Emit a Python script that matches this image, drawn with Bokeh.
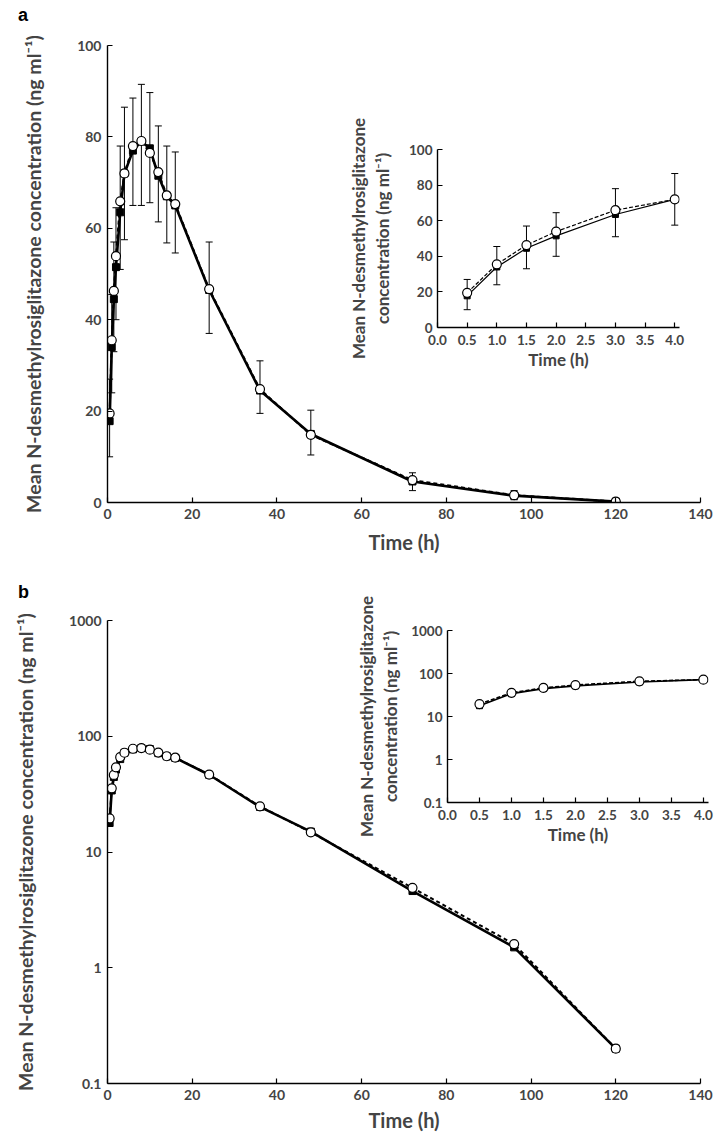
import math
from bokeh.plotting import figure
from bokeh.models import (Range1d, ColumnDataSource, FixedTicker, Whisker, TeeHead,
                          CustomJSTickFormatter, InlineStyleSheet, GlobalInlineStyleSheet, Div)
from bokeh.layouts import column
from bokeh.embed import file_html
from bokeh.resources import INLINE

# ---------------- data ----------------
times = [0.5, 1, 1.5, 2, 3, 4, 6, 8, 10, 12, 14, 16, 24, 36, 48, 72, 96, 120]
circle_mean = [19.5, 35.5, 46.3, 53.9, 65.9, 72.0, 78.0, 79.1, 76.5, 72.3, 67.2, 65.3, 46.7, 24.8, 14.8, 4.9, 1.6, 0.2]
square_mean = [17.8, 34.0, 44.5, 51.5, 63.5, 72.0, 77.0, 79.0, 77.5, 71.5, 67.0, 65.0, 46.5, 24.5, 15.0, 4.6, 1.5, 0.2]
circle_upper = [27, 45.5, 57, 64.5, 78, 86.5, 88.5, 91.5, 89.7, 82.4, 78, 76.7, 57, 31, 20.2, 6.5, 2.6, 0.2]
circle_lower = [10, 24, 33, 40, 51, 57.5, 65, 65, 65.6, 61.4, 56.8, 54.6, 37, 19.5, 10.4, 2.6, 0.6, 0.2]

main_x_ticks = [0, 20, 40, 60, 80, 100, 120, 140]
lin_y_ticks = [0, 20, 40, 60, 80, 100]
log_y_ticks = [0.1, 1, 10, 100, 1000]
inset_x_ticks = [0.0, 0.5, 1.0, 1.5, 2.0, 2.5, 3.0, 3.5, 4.0]
inset_max_time = 4.0

y_title = "Mean N-desmethylrosiglitazone concentration (ng ml\u207b\u00b9)"
inset_y_title = "Mean N-desmethylrosiglitazone\nconcentration (ng ml\u207b\u00b9)"
x_title = "Time (h)"
panel_names = ["a", "b"]

# ---------------- layout geometry (page pixels) ----------------
FONT = "Lato"
RIGHT_PAD = 32           # right border reserved beside each frame
FL, FR = 103, 700
FIG_W = FR + RIGHT_PAD
A_TOP, A_H, A_FT, A_FB = 0, 556, 45, 503
B_TOP, B_H, B_FT, B_FB = 556, 578, 620, 1084
INSET_PAD = 0.08
IA = dict(L=433, R=674, T=149, B=327, left=330, top=100, h=275, lab=13)
IB = dict(L=447, R=703, T=630, B=802, left=340, top=555, h=300, lab=7)
NAME_POS = [(13, 0), (13, 577)]


def abs_css(left, top, extra=""):
    return (":host { position: absolute !important; left: %dpx !important; top: %dpx !important; "
            "z-index: 5; %s }" % (left, top, extra))


ins_idx = [i for i, t in enumerate(times) if t <= inset_max_time]
ins_times = [times[i] for i in ins_idx]
ins_circle = [circle_mean[i] for i in ins_idx]
ins_square = [square_mean[i] for i in ins_idx]
ins_upper = [circle_upper[i] for i in ins_idx]
ins_lower = [circle_lower[i] for i in ins_idx]


def style_axis(ax, tick_size, label_size):
    ax.axis_line_width = 1.4
    ax.major_tick_in = 5
    ax.major_tick_out = 0
    ax.major_tick_line_width = 1.2
    ax.minor_tick_line_color = None
    ax.major_label_text_font = FONT
    ax.major_label_text_font_style = "bold"
    ax.major_label_text_font_size = tick_size
    ax.axis_label_text_font = FONT
    ax.axis_label_text_font_style = "bold"
    ax.axis_label_text_font_size = label_size


def main_fig(top, h, ft, fb, ylog, xlab_standoff):
    kw = dict(width=FIG_W, height=h, output_backend="svg", toolbar_location=None,
              x_range=Range1d(main_x_ticks[0], main_x_ticks[-1]),
              min_border_left=FL, min_border_right=RIGHT_PAD,
              min_border_top=ft - top, min_border_bottom=top + h - fb)
    if ylog:
        p = figure(y_axis_type="log", y_range=Range1d(log_y_ticks[0], log_y_ticks[-1]), **kw)
    else:
        p = figure(y_range=Range1d(lin_y_ticks[0], lin_y_ticks[-1]), **kw)
    p.outline_line_color = None
    p.grid.visible = False
    style_axis(p.xaxis[0], "14px", "20px")
    style_axis(p.yaxis[0], "14px", "19.5px")
    p.xaxis.ticker = FixedTicker(ticks=main_x_ticks)
    p.xaxis.major_label_standoff = 6
    p.xaxis.axis_label = x_title
    p.xaxis.axis_label_standoff = xlab_standoff
    p.yaxis.axis_label = y_title
    p.yaxis.major_label_standoff = 6
    p.yaxis.axis_label_standoff = 29
    if ylog:
        p.yaxis.ticker = FixedTicker(ticks=log_y_ticks)
        p.yaxis.formatter = CustomJSTickFormatter(code="return String(tick);")
    else:
        p.yaxis.ticker = FixedTicker(ticks=lin_y_ticks)
    return p


def inset_fig(box, ylog):
    x_end = inset_max_time + INSET_PAD
    frame_r = box["L"] + (box["R"] - box["L"]) / inset_max_time * x_end
    width = int(round(frame_r)) + RIGHT_PAD - box["left"]
    kw = dict(width=width, height=box["h"], output_backend="svg", toolbar_location=None,
              x_range=Range1d(inset_x_ticks[0], x_end),
              min_border_left=box["L"] - box["left"],
              min_border_right=RIGHT_PAD,
              min_border_top=box["T"] - box["top"],
              min_border_bottom=box["top"] + box["h"] - box["B"],
              styles={"position": "absolute", "left": "%dpx" % box["left"], "top": "%dpx" % box["top"]},
              stylesheets=[InlineStyleSheet(css=abs_css(box["left"], box["top"]))])
    if ylog:
        p = figure(y_axis_type="log", y_range=Range1d(log_y_ticks[0], log_y_ticks[-1]), **kw)
    else:
        p = figure(y_range=Range1d(lin_y_ticks[0], lin_y_ticks[-1]), **kw)
    p.outline_line_color = None
    p.grid.visible = False
    p.background_fill_alpha = 0
    p.border_fill_alpha = 0
    style_axis(p.xaxis[0], "13.5px", "17px")
    style_axis(p.yaxis[0], "13.5px", "17px")
    p.xaxis.ticker = FixedTicker(ticks=inset_x_ticks)
    p.xaxis.formatter = CustomJSTickFormatter(code="return tick.toFixed(1);")
    p.xaxis.major_label_standoff = 7
    p.xaxis.axis_label = x_title
    p.xaxis.axis_label_standoff = 1
    p.yaxis.axis_label = inset_y_title
    p.yaxis.axis_label_text_line_height = 1.15
    p.yaxis.major_label_standoff = 5
    p.yaxis.axis_label_standoff = box["lab"]
    if ylog:
        p.yaxis.ticker = FixedTicker(ticks=log_y_ticks)
        p.yaxis.formatter = CustomJSTickFormatter(code="return String(tick);")
    else:
        p.yaxis.ticker = FixedTicker(ticks=lin_y_ticks)
    return p


def panel_name(text, pos):
    return Div(text=text, width=20, height=22,
               styles={"position": "absolute", "left": "%dpx" % pos[0], "top": "%dpx" % pos[1]},
               stylesheets=[InlineStyleSheet(css=abs_css(
                   pos[0], pos[1], "font-family: Lato; font-weight: bold; font-size: 18px; line-height: 20px;"))])


def draw_series(p, xs, cm, sm, lw_solid, lw_dash, csize, ssize, dash):
    p.line(xs, sm, line_color="black", line_width=lw_solid)
    p.line(xs, cm, line_color="black", line_width=lw_dash, line_dash=dash)
    p.scatter(xs, sm, marker="square", size=ssize, fill_color="black", line_color="black")
    p.scatter(xs, cm, marker="circle", size=csize, fill_color="white", line_color="black", line_width=1.2)


def add_whiskers(p, xs, up, lo):
    src = ColumnDataSource(dict(t=xs, hi=up, lo=lo))
    w = Whisker(source=src, base="t", upper="hi", lower="lo", line_color="black", line_width=1,
                upper_head=TeeHead(size=7, line_width=1, line_color="black"),
                lower_head=TeeHead(size=7, line_width=1, line_color="black"),
                level="underlay")
    p.add_layout(w)


# ---------------- panel a ----------------
pa = main_fig(A_TOP, A_H, A_FT, A_FB, False, 8)
add_whiskers(pa, times, circle_upper, circle_lower)
draw_series(pa, times, circle_mean, square_mean, 2.6, 2.0, 9, 7, "4 3")

ia = inset_fig(IA, False)
add_whiskers(ia, ins_times, ins_upper, ins_lower)
draw_series(ia, ins_times, ins_circle, ins_square, 1.2, 1.2, 9, 6, "4 2")

# ---------------- panel b ----------------
pb = main_fig(B_TOP, B_H, B_FT, B_FB, True, 5)
draw_series(pb, times, circle_mean, square_mean, 2.6, 2.0, 9, 7, "4 3")

ib = inset_fig(IB, True)
draw_series(ib, ins_times, ins_circle, ins_square, 1.6, 1.6, 9, 6, "4 2")

na = panel_name(panel_names[0], NAME_POS[0])
nb = panel_name(panel_names[1], NAME_POS[1])

page_css = GlobalInlineStyleSheet(css="html, body { overflow: hidden !important; margin: 0; padding: 0; }")
layout = column(pa, pb, ia, ib, na, nb, spacing=0, styles={"position": "relative"},
                stylesheets=[page_css])
open("out.html", "w").write(file_html(layout, INLINE))
